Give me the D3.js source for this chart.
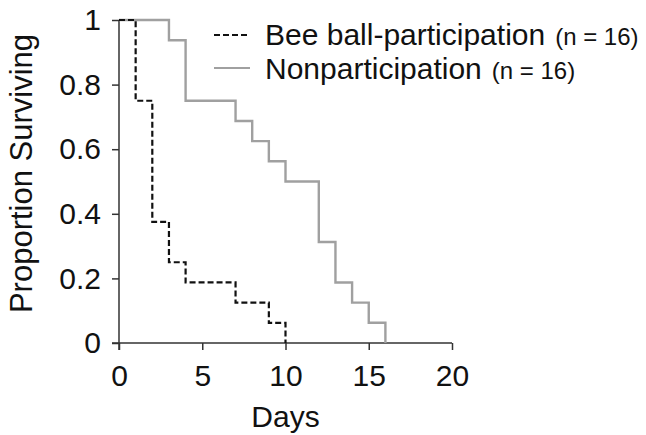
<!DOCTYPE html>
<html>
<head>
<meta charset="utf-8">
<script src="https://cdn.jsdelivr.net/npm/d3@7"></script>
<style>
  body { margin: 0; background: #fff; }
  svg { font-family: "Liberation Sans", Arial, sans-serif; }
</style>
</head>
<body>
<div id="chart"></div>
<script>
// survival steps: day at which proportion changes, and proportion from that day on
const beeDays = [0, 1, 2, 3, 4, 7, 9, 10];
const beeSurv = [1, 0.75, 0.375, 0.25, 0.1875, 0.125, 0.0625, 0];
const nonDays = [0, 3, 4, 7, 8, 9, 10, 12, 13, 14, 15, 16];
const nonSurv = [1, 0.9375, 0.75, 0.6875, 0.625, 0.5625, 0.5, 0.3125, 0.1875, 0.125, 0.0625, 0];
const xTicks = [0, 5, 10, 15, 20];
const yTicks = [0, 0.2, 0.4, 0.6, 0.8, 1];
const seriesNames = ["Bee ball-participation", "Nonparticipation"];
const seriesN = ["(n = 16)", "(n = 16)"];

const W = 646, H = 435;
const margin = { top: 20, right: 194, bottom: 92, left: 119 };

const svg = d3.select("#chart").append("svg")
  .attr("width", W)
  .attr("height", H);

const x = d3.scaleLinear().domain([0, 20]).range([margin.left, W - margin.right]);
const y = d3.scaleLinear().domain([0, 1]).range([H - margin.bottom, margin.top]);

// axes
const xAxis = d3.axisBottom(x).tickValues(xTicks).tickSize(7).tickPadding(15).tickFormat(d3.format("d"));
const yAxis = d3.axisLeft(y).tickValues(yTicks).tickSize(7).tickPadding(11).tickFormat(d => d === 0 || d === 1 ? d : d3.format(".1f")(d));

function styleAxis(g) {
  g.select(".domain").remove();
  g.selectAll(".tick line").attr("stroke", "#333").attr("stroke-width", 1.5);
  g.selectAll(".tick text").attr("fill", "#111").style("font-size", "30px");
}

svg.append("g")
  .attr("transform", "translate(0," + y(0) + ")")
  .call(xAxis)
  .call(styleAxis);

svg.append("g")
  .attr("transform", "translate(" + x(0) + ",0)")
  .call(yAxis)
  .call(styleAxis);

// axis lines
svg.append("line")
  .attr("x1", x(0) - 7).attr("x2", x(20))
  .attr("y1", y(0)).attr("y2", y(0))
  .attr("stroke", "#333").attr("stroke-width", 1.5);
svg.append("line")
  .attr("x1", x(0)).attr("x2", x(0))
  .attr("y1", y(1)).attr("y2", y(0) + 7)
  .attr("stroke", "#333").attr("stroke-width", 1.5);

// labels
svg.append("text")
  .attr("x", x(10))
  .attr("y", 427)
  .attr("text-anchor", "middle")
  .style("font-size", "30px")
  .attr("fill", "#111")
  .text("Days");

svg.append("text")
  .attr("transform", "translate(32," + ((y(0) + y(1)) / 2 - 8) + ") rotate(-90)")
  .attr("text-anchor", "middle")
  .style("font-size", "31px")
  .attr("fill", "#111")
  .text("Proportion Surviving");

// step curves
const line = d3.line()
  .x(d => x(d[0]))
  .y(d => y(d[1]))
  .curve(d3.curveStepAfter);

const bee = beeDays.map((d, i) => [d, beeSurv[i]]);
const non = nonDays.map((d, i) => [d, nonSurv[i]]);

svg.append("path")
  .datum(non)
  .attr("d", line)
  .attr("fill", "none")
  .attr("stroke", "#a0a0a0")
  .attr("stroke-width", 2.4);

svg.append("path")
  .datum(bee)
  .attr("d", line)
  .attr("fill", "none")
  .attr("stroke", "#111")
  .attr("stroke-width", 2.2)
  .attr("stroke-dasharray", "6,3");

// legend
const legend = svg.append("g");
const rows = [
  { name: seriesNames[0], n: seriesN[0], color: "#111", dash: "6,3", ly: 35, ty: 45 },
  { name: seriesNames[1], n: seriesN[1], color: "#a0a0a0", dash: null, ly: 68, ty: 79 }
];
rows.forEach(r => {
  legend.append("line")
    .attr("x1", 214).attr("x2", 250)
    .attr("y1", r.ly).attr("y2", r.ly)
    .attr("stroke", r.color)
    .attr("stroke-width", 2)
    .attr("stroke-dasharray", r.dash);
  const t = legend.append("text")
    .attr("x", 265)
    .attr("y", r.ty)
    .attr("fill", "#111")
    .style("font-size", "30px");
  t.append("tspan").text(r.name);
  t.append("tspan").attr("dx", 10).style("font-size", "24px").text(r.n);
});
</script>
</body>
</html>
